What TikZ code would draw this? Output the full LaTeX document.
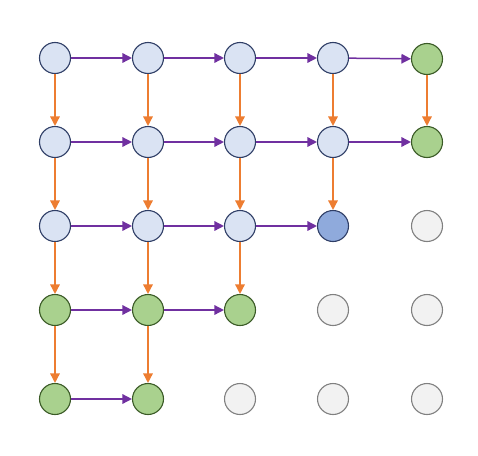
\documentclass[tikz,border=0pt]{standalone}
\usetikzlibrary{arrows.meta}
\definecolor{paleblue}{HTML}{DAE3F3}
\definecolor{midblue}{HTML}{8FAADC}
\definecolor{navy}{HTML}{2F3E66}
\definecolor{palegreen}{HTML}{A9D18E}
\definecolor{darkgreen}{HTML}{3A5A26}
\definecolor{palegray}{HTML}{F2F2F2}
\definecolor{midgray}{HTML}{808080}
\definecolor{orangeline}{HTML}{ED7D31}
\definecolor{purpleline}{HTML}{7030A0}
\begin{document}
\begin{tikzpicture}[x=1pt,y=-1pt,
    dot/.style={circle,line width=1.1pt,minimum size=31pt,inner sep=0pt},
    seen/.style={dot,draw=navy,fill=paleblue},
    current/.style={dot,draw=navy,fill=midblue},
    front/.style={dot,draw=darkgreen,fill=palegreen},
    unseen/.style={dot,draw=midgray,fill=palegray},
    right/.style={-{Triangle[length=9.5pt,width=9.5pt]},line width=1.5pt,draw=purpleline},
    down/.style={-{Triangle[length=9.5pt,width=9.5pt]},line width=1.5pt,draw=orangeline}]
  \useasboundingbox (0,0) rectangle (478,455);
  % row 0
  \node[seen] (a0) at (55,58) {};
  \node[seen] (a1) at (148,58) {};
  \node[seen] (a2) at (240,58) {};
  \node[seen] (a3) at (333,58) {};
  \node[front] (a4) at (427,59) {};
  % row 1
  \node[seen] (b0) at (55,142) {};
  \node[seen] (b1) at (148,142) {};
  \node[seen] (b2) at (240,142) {};
  \node[seen] (b3) at (333,142) {};
  \node[front] (b4) at (427,142) {};
  % row 2
  \node[seen] (c0) at (55,226) {};
  \node[seen] (c1) at (148,226) {};
  \node[seen] (c2) at (240,226) {};
  \node[current] (c3) at (333,226) {};
  \node[unseen] (c4) at (427,226) {};
  % row 3
  \node[front] (d0) at (55,310) {};
  \node[front] (d1) at (148,310) {};
  \node[front] (d2) at (240,310) {};
  \node[unseen] (d3) at (333,310) {};
  \node[unseen] (d4) at (427,310) {};
  % row 4
  \node[front] (e0) at (55,399) {};
  \node[front] (e1) at (148,399) {};
  \node[unseen] (e2) at (240,399) {};
  \node[unseen] (e3) at (333,399) {};
  \node[unseen] (e4) at (427,399) {};
  % horizontal steps
  \foreach \u/\v in {a0/a1,a1/a2,a2/a3,a3/a4,b0/b1,b1/b2,b2/b3,b3/b4,
                     c0/c1,c1/c2,c2/c3,d0/d1,d1/d2,e0/e1}
    \draw[right] (\u) -- (\v);
  % vertical steps
  \foreach \u/\v in {a0/b0,b0/c0,c0/d0,d0/e0,a1/b1,b1/c1,c1/d1,d1/e1,
                     a2/b2,b2/c2,c2/d2,a3/b3,b3/c3,a4/b4}
    \draw[down] (\u) -- (\v);
\end{tikzpicture}
\end{document}
